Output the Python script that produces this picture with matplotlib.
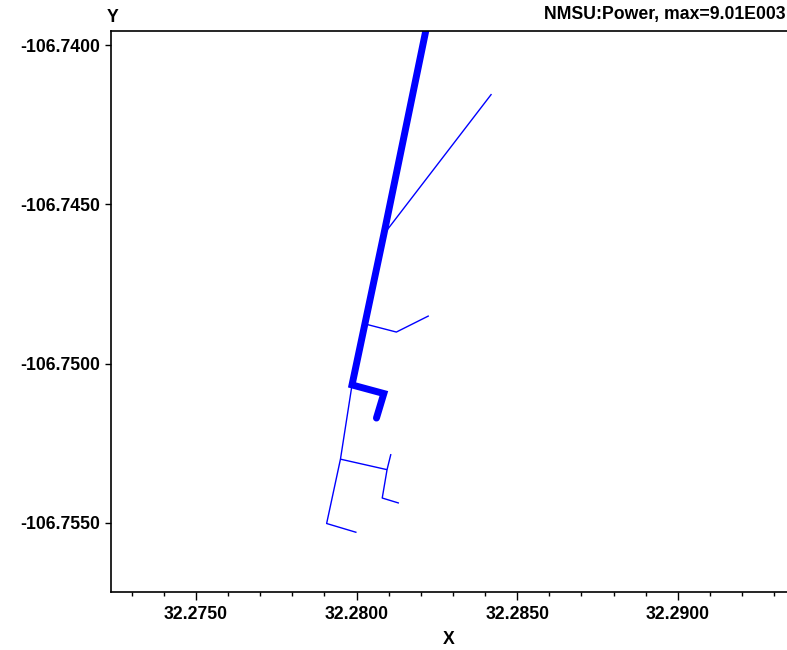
import numpy as np
import matplotlib
matplotlib.use("Agg")
import matplotlib.pyplot as plt
from matplotlib.ticker import MultipleLocator, FormatStrFormatter

plt.rcParams['font.family'] = ['Liberation Sans', 'DejaVu Sans']
plt.rcParams['font.weight'] = 'bold'

# thick feeder (high power)
main_x = [32.28223, 32.28085, 32.27986, 32.28085, 32.28062]
main_y = [-106.73919, -106.74594, -106.75067, -106.75094, -106.75171]

# thin branches
branches = [
    ([32.28085, 32.28420], [-106.74594, -106.74154]),
    ([32.28028, 32.28124, 32.28225], [-106.74876, -106.74901, -106.74850]),
    ([32.27986, 32.27950, 32.27907, 32.28000], [-106.75067, -106.75300, -106.75502, -106.75530]),
    ([32.27950, 32.28095], [-106.75300, -106.75333]),
    ([32.28107, 32.28095, 32.28080, 32.28132], [-106.75284, -106.75333, -106.75422, -106.75438]),
]

xticks = [32.2750, 32.2800, 32.2850, 32.2900]
yticks = [-106.7400, -106.7450, -106.7500, -106.7550]

W, H = 787, 650
fig = plt.figure(figsize=(W / 100, H / 100), dpi=100)
ax = fig.add_axes([111 / W, (H - 592) / H, (800 - 111) / W, (592 - 31) / H])

for bx, by in branches:
    ax.plot(bx, by, color='#0000ff', lw=1.0, solid_capstyle='butt')
ax.plot(main_x, main_y, color='#0000ff', lw=5, solid_capstyle='round', solid_joinstyle='miter')

ax.set_xlim(32.27236, 32.29380)
ax.set_ylim(-106.75717, -106.73956)

ax.set_xticks(xticks)
ax.set_yticks(yticks)
ax.xaxis.set_minor_locator(MultipleLocator(0.001))
ax.xaxis.set_major_formatter(FormatStrFormatter('%.4f'))
ax.yaxis.set_major_formatter(FormatStrFormatter('%.4f'))
ax.tick_params(axis='x', which='major', length=6, width=1, pad=4, labelsize=12.7)
ax.tick_params(axis='x', which='minor', length=3, width=1)
ax.tick_params(axis='y', which='major', length=4.5, width=1, pad=3, labelsize=12.7)

for s in ['left', 'bottom', 'top']:
    ax.spines[s].set_linewidth(1.2)
ax.spines['right'].set_visible(False)

fig.text(111 / W + 0.002, 1 - 18 / H, 'Y', fontsize=12.7, fontweight='bold', ha='center', va='center')
fig.text(449 / W, 1 - 640 / H, 'X', fontsize=12.7, fontweight='bold', ha='center', va='center')
fig.text(786 / W, 1 - 15 / H, 'NMSU:Power, max=9.01E003', fontsize=12.7, fontweight='bold',
         ha='right', va='center')

fig.savefig('out.png', dpi=100)
